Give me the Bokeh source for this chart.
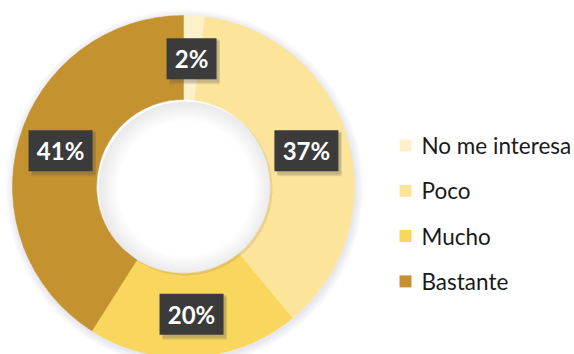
import math
from bokeh.plotting import figure
from bokeh.models import Range1d, ColumnDataSource
from bokeh.core.properties import value
from bokeh.embed import file_html
from bokeh.resources import INLINE

# ---- data ----
categories = ["No me interesa", "Poco", "Mucho", "Bastante"]
percents = [2, 37, 20, 41]
colors = ["#FEF1CA", "#FCE59A", "#F9D65E", "#C4922F"]
labels = ["2%", "37%", "20%", "41%"]

W, H = 574, 354
CX, CY = 183, H - 186
R_OUT, R_IN = 171, 87
R_LAB = 128

p = figure(width=W, height=H, output_backend="svg", toolbar_location=None,
           x_range=Range1d(0, W), y_range=Range1d(0, H),
           min_border=0, outline_line_color=None, background_fill_color="white")
p.axis.visible = False
p.grid.visible = False

total = sum(percents)
starts, ends, mids = [], [], []
c = 0.0
for v in percents:
    c0 = c / total
    c += v
    c1 = c / total
    starts.append(math.pi / 2 - 2 * math.pi * c0)
    ends.append(math.pi / 2 - 2 * math.pi * c1)
    mids.append(math.pi / 2 - math.pi * (c0 + c1))

# outer soft shadow
for i in range(8):
    p.annulus(x=CX + 1, y=CY - 2, inner_radius=R_OUT - 2, outer_radius=R_OUT + 1 + i,
              fill_color="#8a8f9a", fill_alpha=0.025, line_color=None)

src = ColumnDataSource(dict(start=starts, end=ends, color=colors, cat=categories))
p.annular_wedge(x=CX, y=CY, inner_radius=R_IN, outer_radius=R_OUT,
                start_angle="start", end_angle="end", direction="clock",
                fill_color="color", line_color="color", line_width=0.5, source=src)

# inner shadow in the hole
for i in range(10):
    p.annulus(x=CX + 2, y=CY - 2, inner_radius=R_IN - 3 - 1.8 * i, outer_radius=R_IN,
              fill_color="#8a8f9a", fill_alpha=0.016, line_color=None)

# labels
lx = [CX + R_LAB * math.cos(a) for a in mids]
ly = [CY + R_LAB * math.sin(a) for a in mids]
bw = [22 + 14 * len(t) for t in labels]
lsrc = ColumnDataSource(dict(x=lx, y=ly, w=bw, t=labels,
                             sx=[x + 3 for x in lx], sy=[y - 3 for y in ly]))
for k in range(3):
    p.rect(x="sx", y="sy", width="w", height=41 + 2 * k, width_units="screen",
           height_units="screen", fill_color="#555555", fill_alpha=0.12,
           line_color=None, source=lsrc)
p.rect(x="x", y="y", width="w", height=41, width_units="screen", height_units="screen",
       fill_color="#3B3B3B", line_color=None, source=lsrc)
p.text(x="x", y="y", text="t", text_align="center", text_baseline="middle",
       text_color="white", text_font=value("Lato"), text_font_style="bold",
       text_font_size="24px", source=lsrc)

# legend
leg_y = [H - (145 + 45.3 * i) for i in range(len(categories))]
gsrc = ColumnDataSource(dict(x=[405] * len(categories), y=leg_y, c=colors, t=categories,
                             tx=[421] * len(categories)))
p.scatter(x="x", y="y", marker="square", size=12, fill_color="c", line_color=None,
          source=gsrc)
p.text(x="tx", y="y", text="t", text_align="left", text_baseline="middle",
       text_color="#1a1a1a", text_font=value("Lato"), text_font_size="22.5px", source=gsrc)

open("out.html", "w").write(file_html(p, INLINE))
